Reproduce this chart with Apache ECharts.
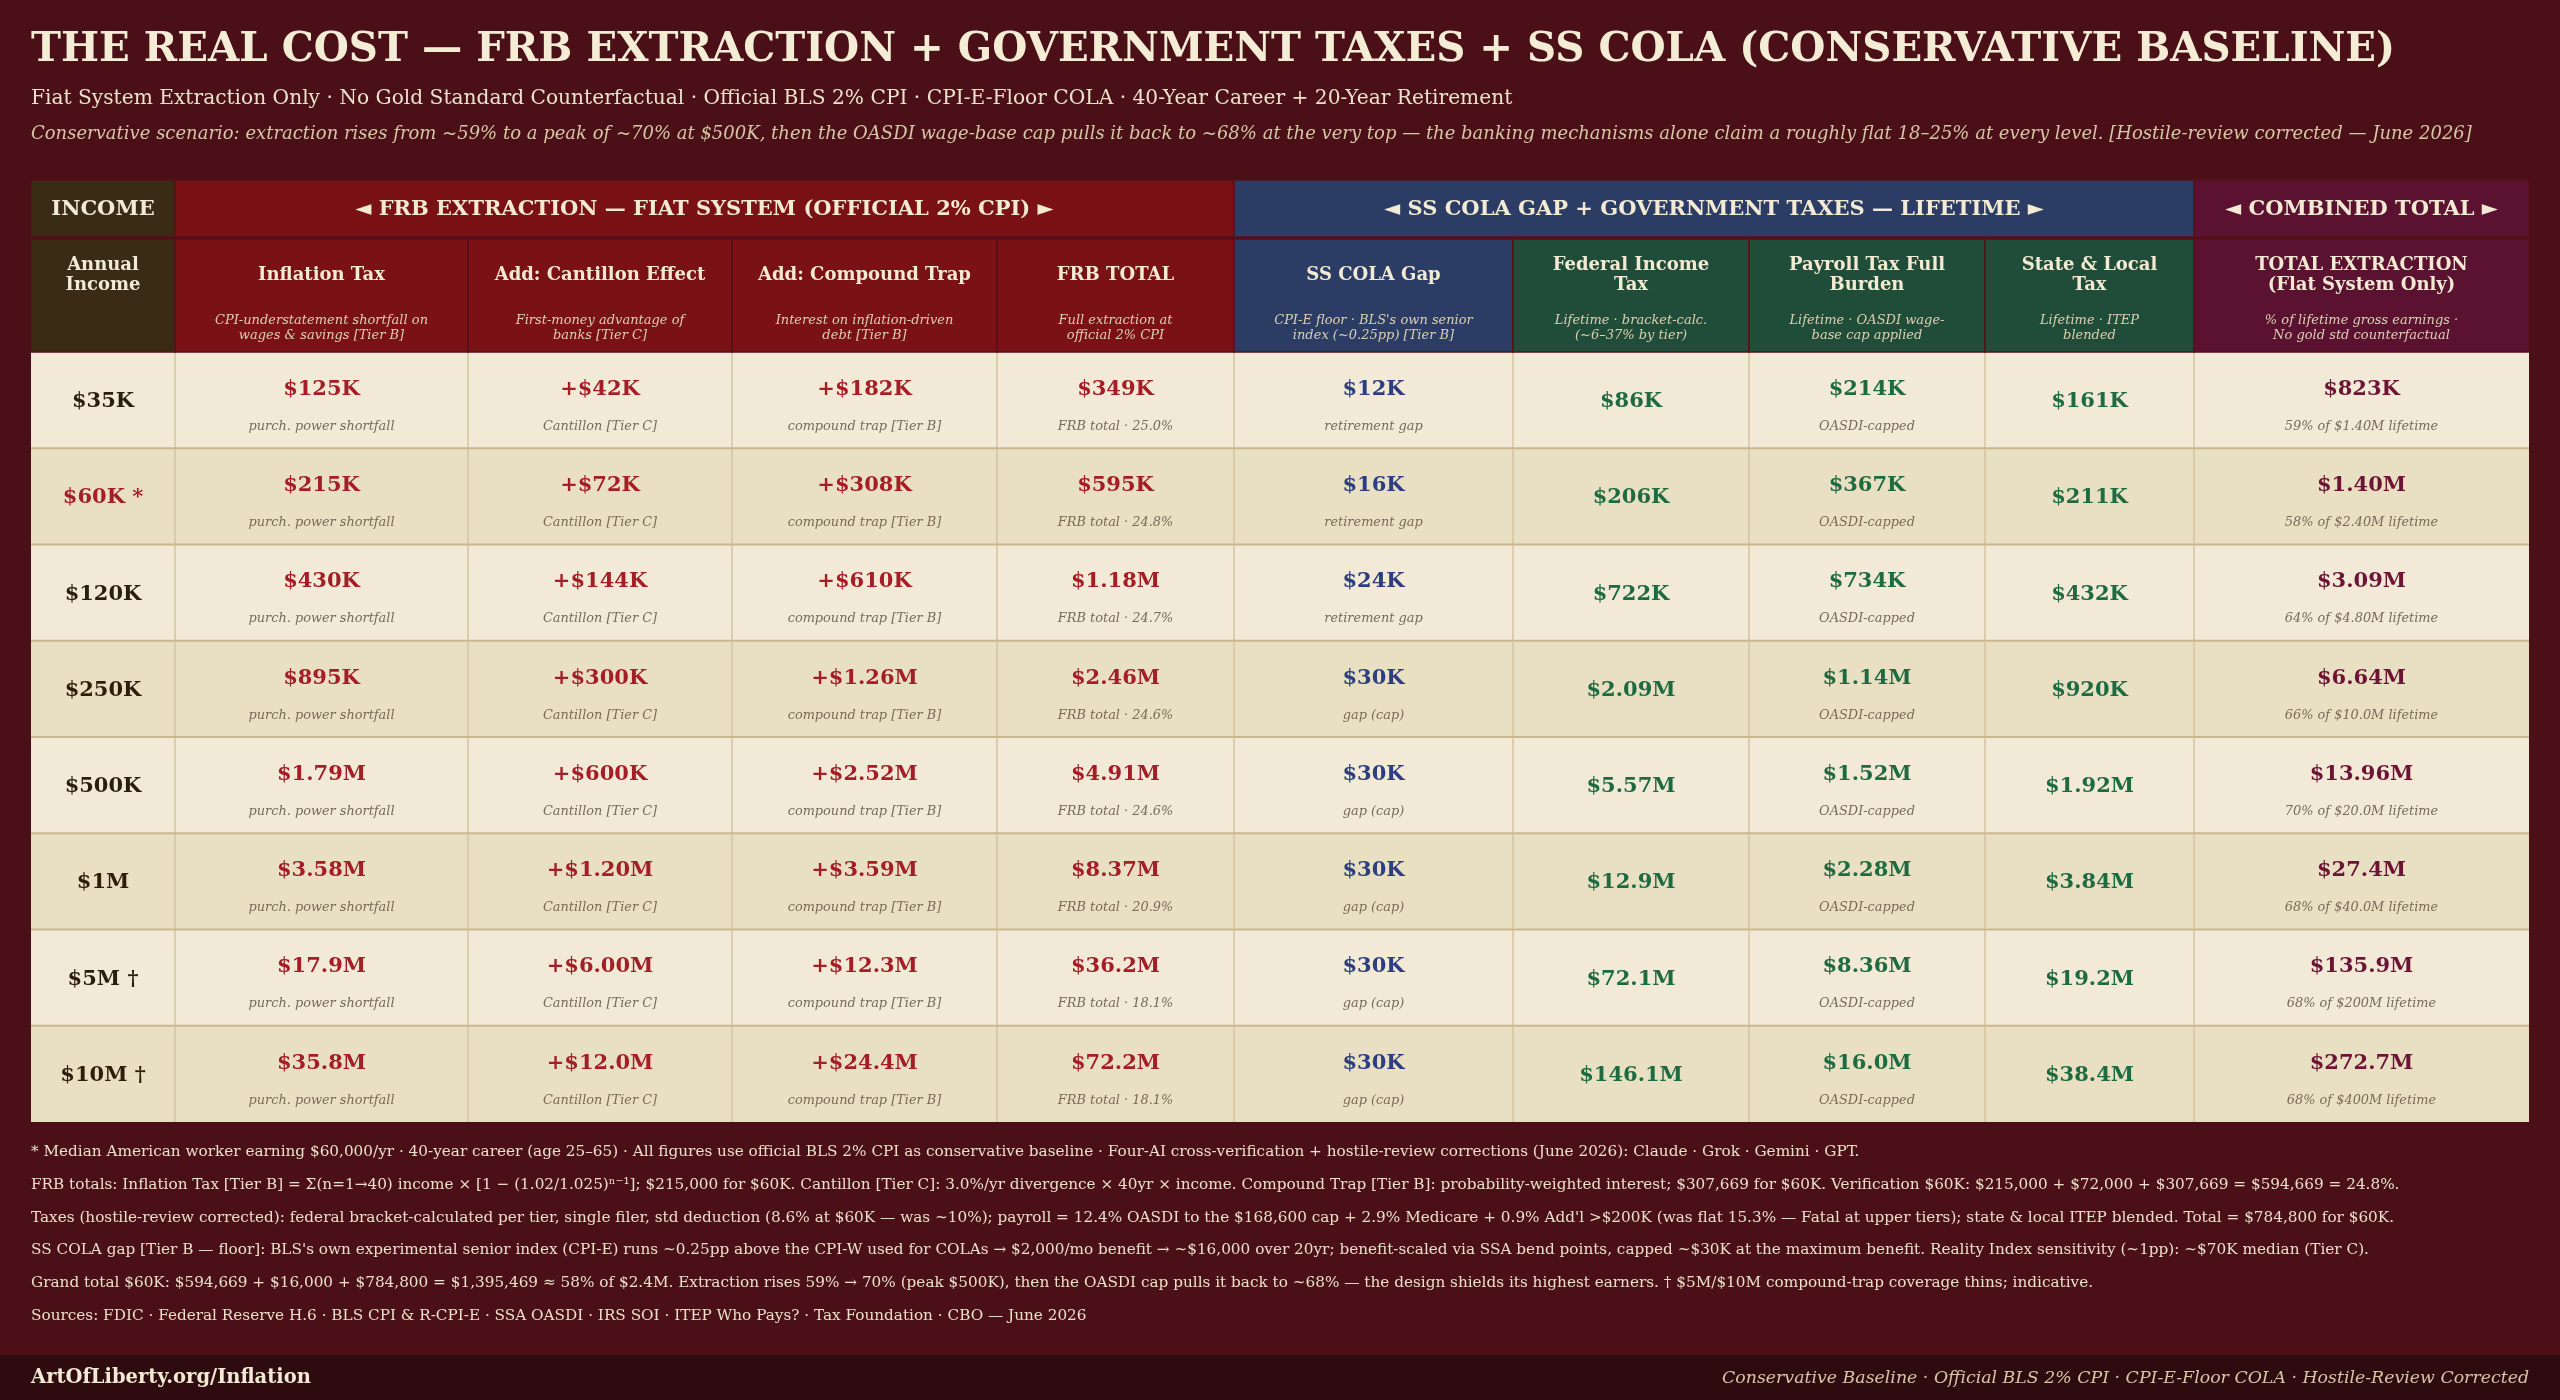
<!DOCTYPE html>
<html>
<head>
<meta charset="utf-8">
<script src="https://cdn.jsdelivr.net/npm/echarts@6/dist/echarts.min.js"></script>
<style>
  html, body { margin: 0; padding: 0; background: #4a0f17; }
  #main { width: 2560px; height: 1400px; }
</style>
</head>
<body>
<div id="main"></div>
<script>
// ---- table data ----
const incomeLabels = ['$35K', '$60K *', '$120K', '$250K', '$500K', '$1M', '$5M †', '$10M †'];
const inflationTax = ['$125K', '$215K', '$430K', '$895K', '$1.79M', '$3.58M', '$17.9M', '$35.8M'];
const cantillon = ['+$42K', '+$72K', '+$144K', '+$300K', '+$600K', '+$1.20M', '+$6.00M', '+$12.0M'];
const compoundTrap = ['+$182K', '+$308K', '+$610K', '+$1.26M', '+$2.52M', '+$3.59M', '+$12.3M', '+$24.4M'];
const frbTotal = ['$349K', '$595K', '$1.18M', '$2.46M', '$4.91M', '$8.37M', '$36.2M', '$72.2M'];
const frbShare = ['25.0%', '24.8%', '24.7%', '24.6%', '24.6%', '20.9%', '18.1%', '18.1%'];
const colaGap = ['$12K', '$16K', '$24K', '$30K', '$30K', '$30K', '$30K', '$30K'];
const colaNote = ['retirement gap', 'retirement gap', 'retirement gap', 'gap (cap)', 'gap (cap)', 'gap (cap)', 'gap (cap)', 'gap (cap)'];
const federalTax = ['$86K', '$206K', '$722K', '$2.09M', '$5.57M', '$12.9M', '$72.1M', '$146.1M'];
const payrollTax = ['$214K', '$367K', '$734K', '$1.14M', '$1.52M', '$2.28M', '$8.36M', '$16.0M'];
const stateLocalTax = ['$161K', '$211K', '$432K', '$920K', '$1.92M', '$3.84M', '$19.2M', '$38.4M'];
const totalExtraction = ['$823K', '$1.40M', '$3.09M', '$6.64M', '$13.96M', '$27.4M', '$135.9M', '$272.7M'];
const totalShare = ['59%', '58%', '64%', '66%', '70%', '68%', '68%', '68%'];
const lifetimeEarnings = ['$1.40M', '$2.40M', '$4.80M', '$10.0M', '$20.0M', '$40.0M', '$200M', '$400M'];

const groupHeaders = ['INCOME', '◄ FRB EXTRACTION — FIAT SYSTEM (OFFICIAL 2% CPI) ►', '◄ SS COLA GAP + GOVERNMENT TAXES — LIFETIME ►', '◄ COMBINED TOTAL ►'];
const groupSpans = [[0, 1], [1, 5], [5, 9], [9, 10]];
const columnHeaders = ['Annual\nIncome', 'Inflation Tax', 'Add: Cantillon Effect', 'Add: Compound Trap', 'FRB TOTAL', 'SS COLA Gap',
  'Federal Income\nTax', 'Payroll Tax Full\nBurden', 'State & Local\nTax', 'TOTAL EXTRACTION\n(Flat System Only)'];
const columnNotes = ['', 'CPI-understatement shortfall on\nwages & savings [Tier B]', 'First-money advantage of\nbanks [Tier C]',
  'Interest on inflation-driven\ndebt [Tier B]', 'Full extraction at\nofficial 2% CPI', "CPI-E floor · BLS's own senior\nindex (~0.25pp) [Tier B]",
  'Lifetime · bracket-calc.\n(~6–37% by tier)', 'Lifetime · OASDI wage-\nbase cap applied', 'Lifetime · ITEP\nblended',
  '% of lifetime gross earnings ·\nNo gold std counterfactual'];

const footNotes = [
  '* Median American worker earning $60,000/yr · 40-year career (age 25–65) · All figures use official BLS 2% CPI as conservative baseline · Four-AI cross-verification + hostile-review corrections (June 2026): Claude · Grok · Gemini · GPT.',
  'FRB totals: Inflation Tax [Tier B] = Σ(n=1→40) income × [1 − (1.02/1.025)ⁿ⁻¹]; $215,000 for $60K. Cantillon [Tier C]: 3.0%/yr divergence × 40yr × income. Compound Trap [Tier B]: probability-weighted interest; $307,669 for $60K. Verification $60K: $215,000 + $72,000 + $307,669 = $594,669 = 24.8%.',
  "Taxes (hostile-review corrected): federal bracket-calculated per tier, single filer, std deduction (8.6% at $60K — was ~10%); payroll = 12.4% OASDI to the $168,600 cap + 2.9% Medicare + 0.9% Add'l >$200K (was flat 15.3% — Fatal at upper tiers); state & local ITEP blended. Total = $784,800 for $60K.",
  "SS COLA gap [Tier B — floor]: BLS's own experimental senior index (CPI-E) runs ~0.25pp above the CPI-W used for COLAs → $2,000/mo benefit → ~$16,000 over 20yr; benefit-scaled via SSA bend points, capped ~$30K at the maximum benefit. Reality Index sensitivity (~1pp): ~$70K median (Tier C).",
  'Grand total $60K: $594,669 + $16,000 + $784,800 = $1,395,469 ≈ 58% of $2.4M. Extraction rises 59% → 70% (peak $500K), then the OASDI cap pulls it back to ~68% — the design shields its highest earners. † $5M/$10M compound-trap coverage thins; indicative.',
  'Sources: FDIC · Federal Reserve H.6 · BLS CPI & R-CPI-E · SSA OASDI · IRS SOI · ITEP Who Pays? · Tax Foundation · CBO — June 2026'
];

// ---- layout / styles ----
const FONT = '"DejaVu Serif", serif';
const colWidths = [144, 293, 264, 265, 237, 279, 236, 236, 209, 335];
const colEdges = colWidths.reduce((a, w) => { a.push(a[a.length - 1] + w); return a; }, [0]);
const tableWidth = colEdges[colEdges.length - 1];
const HEAD_H = 172; // header band height in header-axis units (px)
const groupFill = ['#3a2b15', '#7a1115', '#2c3d65', '#5a1230'];
const headFill = ['#3a2b15', '#7a1115', '#7a1115', '#7a1115', '#7a1115', '#2c3d65', '#204d39', '#204d39', '#204d39', '#5a1230'];
const CREAM = '#f3ead3';
const NOTE_HEAD = '#dccfb2';
const RED = '#a51d26', NAVY = '#2d3e80', GREEN = '#1f6b41', PLUM = '#6d1436';

const columns = [
  { values: incomeLabels, color: (r) => (r === 1 ? RED : '#2b1f0c'), note: null },
  { values: inflationTax, color: () => RED, note: () => 'purch. power shortfall' },
  { values: cantillon, color: () => RED, note: () => 'Cantillon [Tier C]' },
  { values: compoundTrap, color: () => RED, note: () => 'compound trap [Tier B]' },
  { values: frbTotal, color: () => RED, note: (r) => 'FRB total · ' + frbShare[r] },
  { values: colaGap, color: () => NAVY, note: (r) => colaNote[r] },
  { values: federalTax, color: () => GREEN, note: null },
  { values: payrollTax, color: () => GREEN, note: () => 'OASDI-capped' },
  { values: stateLocalTax, color: () => GREEN, note: null },
  { values: totalExtraction, color: () => PLUM, note: (r) => totalShare[r] + ' of ' + lifetimeEarnings[r] + ' lifetime' }
];

const bodyData = [];
incomeLabels.forEach((_, r) => columns.forEach((_, c) => bodyData.push([c, r])));
const headData = [];
groupSpans.forEach((s, i) => headData.push([s[0], s[1], 0, i]));
columnHeaders.forEach((_, c) => headData.push([c, c + 1, 1, c]));

function renderBody(params, api) {
  const c = api.value(0), r = api.value(1);
  const x0 = api.coord([colEdges[c], r])[0];
  const x1 = api.coord([colEdges[c + 1], r])[0];
  const cy = api.coord([0, r])[1];
  const h = api.size([0, 1])[1];
  const y0 = cy - h / 2;
  const cx = (x0 + x1) / 2;
  const col = columns[c];
  const children = [
    { type: 'rect', shape: { x: x0, y: y0, width: x1 - x0, height: h }, style: { fill: r % 2 ? '#e9e0c3' : '#f2ead6' } }
  ];
  if (c > 0) children.push({ type: 'line', shape: { x1: x0, y1: y0, x2: x0, y2: y0 + h }, style: { stroke: '#d3c3a0', lineWidth: 1.5 } });
  if (r > 0) children.push({ type: 'line', shape: { x1: x0, y1: y0, x2: x1, y2: y0 }, style: { stroke: '#c9b790', lineWidth: 2 } });
  const note = col.note ? col.note(r) : null;
  children.push({
    type: 'text',
    style: {
      text: col.values[r], x: cx, y: note ? y0 + h * 0.39 : y0 + h / 2 + 1.5,
      font: 'bold 21px ' + FONT, fill: col.color(r), align: 'center', verticalAlign: 'middle'
    }
  });
  if (note) {
    children.push({
      type: 'text',
      style: {
        text: note, x: cx, y: y0 + h * 0.775,
        font: 'italic 12.9px ' + FONT, fill: '#776b58', align: 'center', verticalAlign: 'middle'
      }
    });
  }
  return { type: 'group', children: children };
}

function renderHead(params, api) {
  const c0 = api.value(0), c1 = api.value(1), level = api.value(2), idx = api.value(3);
  const top = level === 0 ? 0 : 59;
  const bottom = level === 0 ? 57 : HEAD_H;
  const p0 = api.coord([colEdges[c0], top]);
  const p1 = api.coord([colEdges[c1], bottom]);
  const x0 = p0[0], y0 = p0[1], w = p1[0] - p0[0], h = p1[1] - p0[1];
  const cx = x0 + w / 2;
  const children = [
    { type: 'rect', shape: { x: x0, y: y0, width: w, height: h }, style: { fill: level === 0 ? groupFill[idx] : headFill[idx], stroke: '#55101a', lineWidth: 1.5 } }
  ];
  if (level === 0) {
    children.push({ type: 'text', style: { text: groupHeaders[idx], x: cx, y: y0 + h / 2 + 1, font: 'bold 21px ' + FONT, fill: CREAM, align: 'center', verticalAlign: 'middle' } });
  } else {
    children.push({ type: 'text', style: { text: columnHeaders[idx], x: cx, y: y0 + 36.5, font: 'bold 18px ' + FONT, lineHeight: 20.5, fill: CREAM, align: 'center', verticalAlign: 'middle' } });
    if (columnNotes[idx]) {
      children.push({ type: 'text', style: { text: columnNotes[idx], x: cx, y: y0 + 89, font: 'italic 13px ' + FONT, lineHeight: 15, fill: NOTE_HEAD, align: 'center', verticalAlign: 'middle' } });
    }
  }
  return { type: 'group', children: children };
}

const textEl = (text, x, y, font, fill, align) => ({
  type: 'text', x: 0, y: 0, silent: true,
  style: { text: text, x: x, y: y, font: font, fill: fill, align: align || 'left', verticalAlign: 'middle' }
});

const graphics = [
  textEl('THE REAL COST — FRB EXTRACTION + GOVERNMENT TAXES + SS COLA (CONSERVATIVE BASELINE)', 31, 51, 'bold 40.3px ' + FONT, '#f5ecd6'),
  textEl('Fiat System Extraction Only · No Gold Standard Counterfactual · Official BLS 2% CPI · CPI-E-Floor COLA · 40-Year Career + 20-Year Retirement', 31, 99, '20.2px ' + FONT, '#ece2cc'),
  textEl('Conservative scenario: extraction rises from ~59% to a peak of ~70% at $500K, then the OASDI wage-base cap pulls it back to ~68% at the very top — the banking mechanisms alone claim a roughly flat 18–25% at every level. [Hostile-review corrected — June 2026]', 31, 134, 'italic 18px ' + FONT, '#d6c6a6'),
  { type: 'rect', shape: { x: 0, y: 1355, width: 2560, height: 45 }, style: { fill: '#2d0b0f' }, silent: true },
  textEl('ArtOfLiberty.org/Inflation', 31, 1378, 'bold 19.5px ' + FONT, '#f3ead3'),
  textEl('Conservative Baseline · Official BLS 2% CPI · CPI-E-Floor COLA · Hostile-Review Corrected', 2529, 1378, 'italic 17.35px ' + FONT, '#d6c6a6', 'right')
];
footNotes.forEach((t, i) => graphics.push(textEl(t, 31, 1152 + i * 32.8, '15.25px ' + FONT, '#ebe0c8')));

const option = {
  backgroundColor: '#4a0f17',
  animation: false,
  grid: [
    { left: 31, right: 31, top: 352, height: 770 },
    { left: 31, right: 31, top: 180, height: HEAD_H }
  ],
  xAxis: [
    { type: 'value', gridIndex: 0, min: 0, max: tableWidth, show: false },
    { type: 'value', gridIndex: 1, min: 0, max: tableWidth, show: false }
  ],
  yAxis: [
    { type: 'category', gridIndex: 0, data: incomeLabels, inverse: true, show: false },
    { type: 'value', gridIndex: 1, min: 0, max: HEAD_H, inverse: true, show: false }
  ],
  series: [
    { type: 'custom', xAxisIndex: 0, yAxisIndex: 0, data: bodyData, renderItem: renderBody, clip: false, silent: true },
    { type: 'custom', xAxisIndex: 1, yAxisIndex: 1, data: headData, renderItem: renderHead, clip: false, silent: true }
  ],
  graphic: graphics
};

const myChart = echarts.init(document.getElementById('main'));
myChart.setOption(option);
</script>
</body>
</html>
